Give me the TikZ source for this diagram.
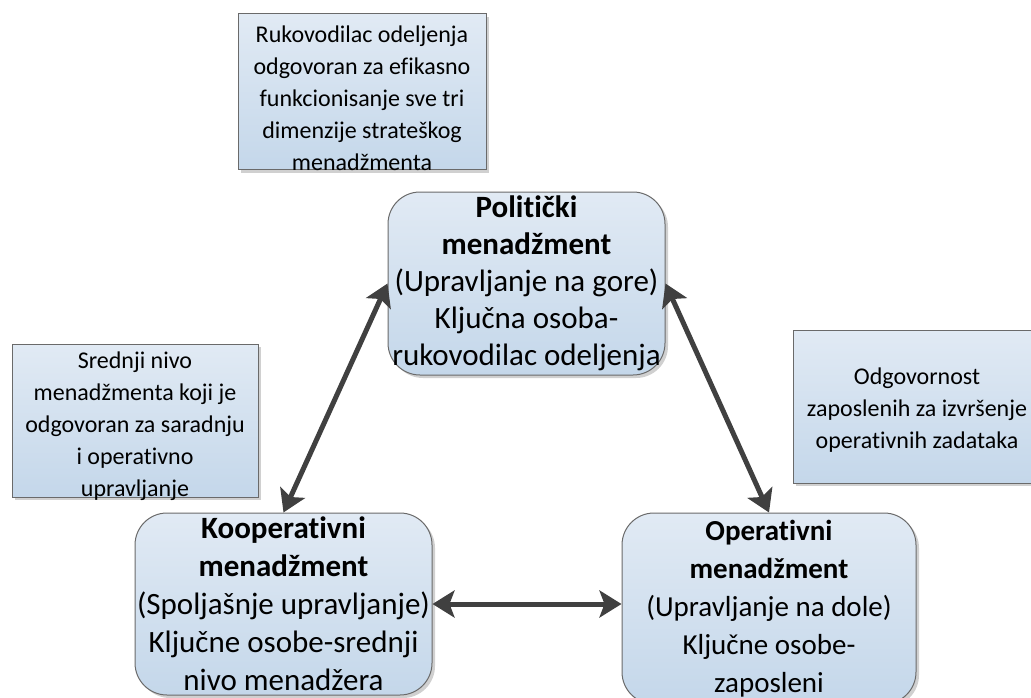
\documentclass[tikz,border=0pt]{standalone}
\usepackage{fontspec}
\setmainfont{Carlito}[Ligatures=NoCommon]
\usetikzlibrary{arrows.meta,shadows,calc}
\definecolor{boxtop}{HTML}{E1EAF4}
\definecolor{boxbot}{HTML}{C4D7EA}
\definecolor{boxline}{HTML}{6A6A6A}
\definecolor{arrowcol}{HTML}{404040}
\definecolor{shadowcol}{HTML}{D0D0D0}
\tikzset{
  basebox/.style={draw=boxline, line width=1pt, top color=boxtop, bottom color=boxbot,
    inner sep=0pt, align=center,
    drop shadow={shadow xshift=3pt, shadow yshift=-3pt, fill=shadowcol, opacity=1}},
  smallbox/.style={basebox, rectangle},
  smalltext/.style={inner sep=0pt, align=center, font=\fontsize{24}{32}\selectfont},
  mainbox/.style={basebox, rectangle, rounded corners=32pt},
  link/.style={draw=arrowcol, line width=5pt,
    {Stealth[length=22pt,width=27pt,inset=5pt]}-{Stealth[length=22pt,width=27pt,inset=5pt]}}
}
\begin{document}
\begin{tikzpicture}[x=1pt,y=-1pt]
\useasboundingbox (0,0) rectangle (1031,698);
\node[smallbox, minimum width=248pt, minimum height=156pt] (topbox) at (362,92) {};
\node[smalltext] (toptext) at ($(topbox.center)+(0,6)$)
  {Rukovodilac odeljenja\\odgovoran za efikasno\\funkcionisanje sve tri\\dimenzije strateškog\\menadžmenta};
\node[smallbox, minimum width=246pt, minimum height=153pt] (leftbox) at (135,420.5) {};
\node[smalltext] (lefttext) at ($(leftbox.center)+(0,6)$)
  {Srednji nivo\\menadžmenta koji je\\odgovoran za saradnju\\i operativno\\upravljanje};
\node[smallbox, minimum width=248pt, minimum height=153pt] (rightbox) at (917,406.5) {};
\node[smalltext] (righttext) at ($(rightbox.center)+(0,4)$)
  {Odgovornost\\zaposlenih za izvršenje\\operativnih zadataka};
\node[mainbox, minimum width=277pt, minimum height=183pt, font=\fontsize{31}{37}\selectfont] (polit) at (526.5,283.5)
  {\textbf{Politički}\\\textbf{menadžment}\\(Upravljanje na gore)\\Ključna osoba-\\rukovodilac odeljenja};
\node[mainbox, minimum width=297pt, minimum height=182pt, font=\fontsize{31}{38}\selectfont] (koop) at (283.5,604)
  {\textbf{Kooperativni}\\\textbf{menadžment}\\(Spoljašnje upravljanje)\\Ključne osobe-srednji\\nivo menadžera};
\node[mainbox, minimum width=294pt, minimum height=191pt, font=\fontsize{29}{38}\selectfont] (oper) at (769,608.5)
  {\textbf{Operativni}\\\textbf{menadžment}\\(Upravljanje na dole)\\Ključne osobe-\\zaposleni};
\draw[link] (polit.west) -- (koop.north);
\draw[link] (polit.east) -- (oper.north);
\draw[link] (koop.east) -- (koop.east -| oper.west);
\end{tikzpicture}
\end{document}
